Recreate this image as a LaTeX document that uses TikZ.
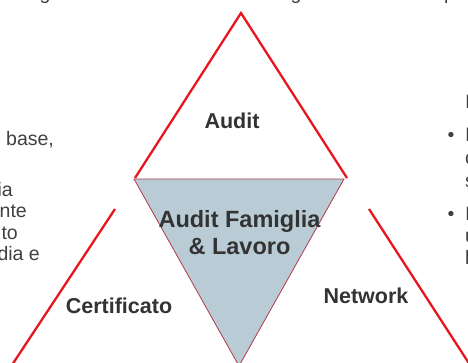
\documentclass[tikz,border=0pt]{standalone}
\usepackage{fontspec}
\setmainfont{Liberation Sans}

\definecolor{triRed}{HTML}{E8161D}
\definecolor{coreFill}{HTML}{B9CCD6}
\definecolor{coreEdge}{HTML}{B03A4C}
\definecolor{labelGray}{HTML}{333333}
\definecolor{bodyGray}{HTML}{404040}

\begin{document}
\begin{tikzpicture}[x=1pt, y=1pt, yscale=-1,
  side/.style={draw=triRed, line width=2.3pt},
  core/.style={draw=coreEdge, line width=0.8pt, fill=coreFill},
  label/.style={font=\fontsize{21.5}{25}\selectfont\bfseries, text=labelGray, inner sep=0pt, anchor=base},
  biglabel/.style={label, font=\fontsize{23.5}{27}\selectfont\bfseries},
  body/.style={font=\fontsize{19.5}{22}\selectfont, text=bodyGray, inner sep=0pt, anchor=base west}]
\useasboundingbox (0,0) rectangle (468,362);
% vertici
\coordinate (apex) at (241,13);
\coordinate (topL) at (135,178);
\coordinate (topR) at (347,178);
\coordinate (coreL) at (134,179);
\coordinate (coreR) at (344,179);
\coordinate (coreB) at (239,366);
\coordinate (leftT) at (115,209);
\coordinate (leftB) at (10,368);
\coordinate (rightT) at (369,209);
\coordinate (rightB) at (472,368);
% triangolo centrale
\draw [core] (coreL) -- (coreR) -- (coreB) -- cycle;
% lati esterni
\draw [side] (topL) -- (apex) -- (topR);
\draw [side] (leftT) -- (leftB);
\draw [side] (rightT) -- (rightB);
% etichette
\node [label] (audit) at (232,128) {Audit};
\node [biglabel] (core1) at (239.5,227) {Audit Famiglia};
\node [biglabel] (core2) at (239.5,254) {\& Lavoro};
\node [label] (cert) at (119,313) {Certificato};
\node [label] (net) at (366,303) {Network};
% testo a sinistra
\node [body] (l1) at (6,145) {base,};
\node [body, anchor=base east] (l2) at (13,196) {ia};
\node [body, anchor=base east] (l3) at (27,217) {nte};
\node [body, anchor=base east] (l4) at (18,239) {to};
\node [body, anchor=base east] (l5) at (40,260) {dia e};
% testo a destra
\node [body] (r1) at (465,108) {I};
\node [body, anchor=base] (b1) at (451,141) {•};
\node [body] (r2) at (465,141) {I};
\node [body] (r3) at (465,164) {c};
\node [body] (r4) at (465,187) {s};
\node [body, anchor=base] (b2) at (451,220) {•};
\node [body] (r5) at (465,220) {I};
\node [body] (r6) at (465,242) {u};
\node [body] (r7) at (465,264) {l};
% riga in alto
\node [body, anchor=base] (t1) at (45,-1) {g};
\node [body, anchor=base] (t2) at (296,-1) {g};
\node [body] (t3) at (444,-1) {p};
\end{tikzpicture}
\end{document}
